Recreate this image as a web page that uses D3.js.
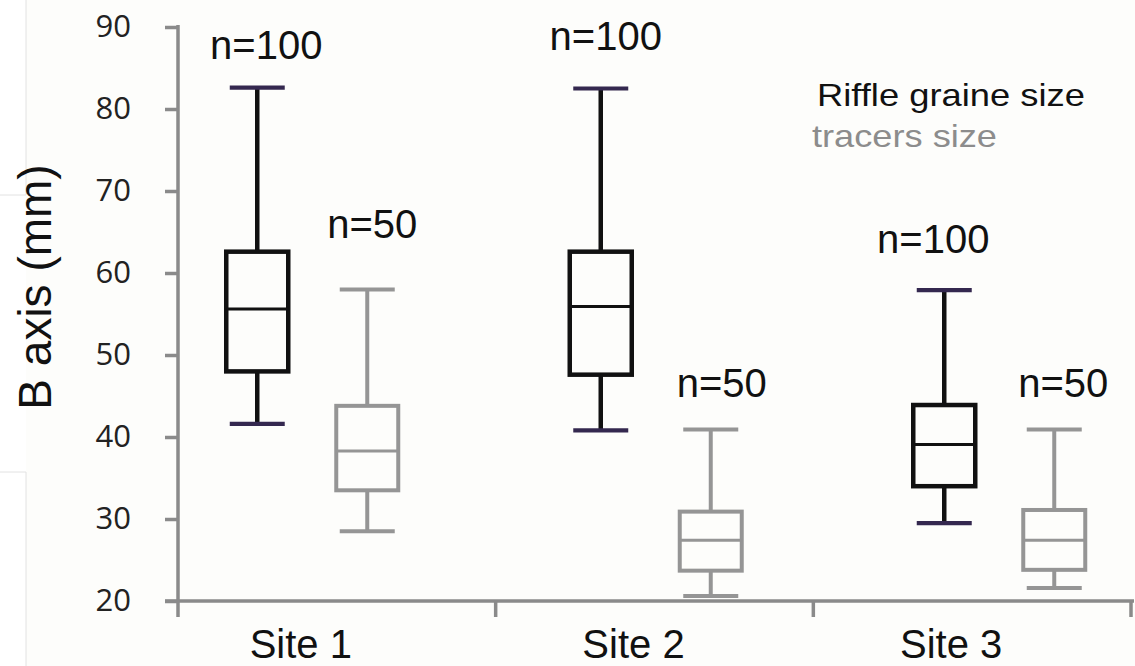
<!DOCTYPE html>
<html>
<head>
<meta charset="utf-8">
<script src="https://cdn.jsdelivr.net/npm/d3@7"></script>
<style>
  html, body { margin: 0; padding: 0; background: #fdfdfb; }
  svg { display: block; }
</style>
</head>
<body>
<svg id="chart" width="1135" height="666"></svg>
<script>
// ---------------- data ----------------
const sites = ["Site 1", "Site 2", "Site 3"];
const series = ["Riffle graine size", "tracers size"];
const yTicks = [20, 30, 40, 50, 60, 70, 80, 90];

const riffleMin    = [41.6, 40.8, 29.5];
const riffleQ1     = [48.0, 47.6, 34.0];
const riffleMedian = [55.6, 55.9, 39.1];
const riffleQ3     = [62.6, 62.6, 43.9];
const riffleMax    = [82.6, 82.5, 57.9];

const tracersMin    = [28.5, 20.6, 21.6];
const tracersQ1     = [33.5, 23.7, 23.8];
const tracersMedian = [38.3, 27.4, 27.4];
const tracersQ3     = [43.8, 30.9, 31.1];
const tracersMax    = [58.0, 40.9, 40.9];

const riffleN  = ["n=100", "n=100", "n=100"];
const tracersN = ["n=50", "n=50", "n=50"];

// ---------------- layout ----------------
const W = 1135, H = 666;
const svg = d3.select("#chart");

svg.append("rect").attr("width", W).attr("height", H).attr("fill", "#fdfdfb");
svg.append("rect").attr("width", 26).attr("height", H).attr("fill", "#ffffff");
// faint screenshot frame artifacts at left
svg.append("path")
  .attr("d", "M26,0 V195 H0 M0,472 H26 V666")
  .attr("fill", "none").attr("stroke", "#e2e2e2").attr("stroke-width", 1);

const y = d3.scaleLinear().domain([20, 90]).range([601, 27]);
const xAxisScale = d3.scaleBand().domain(sites).range([178, 1131]);
const xSite = d3.scaleBand().domain(sites).range([140.5, 1171]);
const xSeries = d3.scalePoint().domain(series).range([-55, 55]);

const boxes = [];
sites.forEach((s, i) => {
  boxes.push({ site: s, ser: series[0], min: riffleMin[i], q1: riffleQ1[i], med: riffleMedian[i], q3: riffleQ3[i], max: riffleMax[i], n: riffleN[i] });
  boxes.push({ site: s, ser: series[1], min: tracersMin[i], q1: tracersQ1[i], med: tracersMedian[i], q3: tracersQ3[i], max: tracersMax[i], n: tracersN[i] });
});

const style = {
  "Riffle graine size": { stroke: "#111111", cap: "#34284f", boxW: 4.5, medW: 3, whW: 4.5, capW: 4.2 },
  "tracers size":       { stroke: "#959595", cap: "#959595", boxW: 4, medW: 3, whW: 4, capW: 4 }
};
// label nudges (px) relative to whisker top: [dx, dy] per box
const labelNudge = [[9, -29], [5, -51], [5, -39], [11, -33], [-11, -37], [9, -33]];
// x-label nudges (px) relative to category centre
const xLabelNudge = [-36, -21, -21];

const boxW = 62, capW = 55;
const cx = d => xSite(d.site) + xSite.bandwidth() / 2 + xSeries(d.ser);

// ---------------- axes ----------------
const axisColor = "#8a8a8a";
const yAxis = svg.append("g").attr("transform", "translate(178,0)")
  .call(d3.axisLeft(y).tickValues(yTicks).tickSize(13).tickPadding(34).tickFormat(d3.format("d")));
yAxis.select(".domain").remove();
yAxis.selectAll(".tick line").attr("stroke", axisColor).attr("stroke-width", 3.5);
yAxis.selectAll(".tick text")
  .attr("font-family", "'Open Sans', sans-serif").attr("font-size", 31).attr("fill", "#222")
  .attr("dy", "0.3em");

svg.append("line").attr("x1", 178).attr("x2", 178).attr("y1", 25).attr("y2", 617)
  .attr("stroke", axisColor).attr("stroke-width", 3.5);
svg.append("line").attr("x1", 165).attr("x2", 1134).attr("y1", y(20)).attr("y2", y(20))
  .attr("stroke", axisColor).attr("stroke-width", 3.5);

// category boundary ticks
const bounds = sites.map(s => xAxisScale(s)).concat([xAxisScale.range()[1]]);
svg.selectAll("line.xtick").data(bounds.slice(1)).join("line").attr("class", "xtick")
  .attr("x1", d => d).attr("x2", d => d).attr("y1", y(20)).attr("y2", 617)
  .attr("stroke", axisColor).attr("stroke-width", 3.5);

svg.selectAll("text.xlab").data(sites).join("text").attr("class", "xlab")
  .attr("x", (d, i) => xAxisScale(d) + xAxisScale.bandwidth() / 2 + xLabelNudge[i])
  .attr("y", 658)
  .attr("text-anchor", "middle")
  .attr("font-family", "'Liberation Sans', Arial, sans-serif").attr("font-size", 40).attr("fill", "#111")
  .text(d => d);

// y axis title
svg.append("text")
  .attr("transform", "translate(51,287) rotate(-90)")
  .attr("text-anchor", "middle")
  .attr("font-family", "'Liberation Sans', Arial, sans-serif").attr("font-size", 46).attr("fill", "#111")
  .text("B axis (mm)");

// ---------------- boxes ----------------
const g = svg.append("g");
const bx = g.selectAll("g.box").data(boxes).join("g").attr("class", "box");

// whiskers
bx.append("line")
  .attr("x1", cx).attr("x2", cx).attr("y1", d => y(d.max)).attr("y2", d => y(d.q3))
  .attr("stroke", d => style[d.ser].stroke).attr("stroke-width", d => style[d.ser].whW);
bx.append("line")
  .attr("x1", cx).attr("x2", cx).attr("y1", d => y(d.q1)).attr("y2", d => y(d.min))
  .attr("stroke", d => style[d.ser].stroke).attr("stroke-width", d => style[d.ser].whW);
// caps
bx.append("line")
  .attr("x1", d => cx(d) - capW / 2).attr("x2", d => cx(d) + capW / 2)
  .attr("y1", d => y(d.max)).attr("y2", d => y(d.max))
  .attr("stroke", d => style[d.ser].cap).attr("stroke-width", d => style[d.ser].capW);
bx.append("line")
  .attr("x1", d => cx(d) - capW / 2).attr("x2", d => cx(d) + capW / 2)
  .attr("y1", d => y(d.min)).attr("y2", d => y(d.min))
  .attr("stroke", d => style[d.ser].cap).attr("stroke-width", d => style[d.ser].capW);
// box
bx.append("rect")
  .attr("x", d => cx(d) - boxW / 2).attr("width", boxW)
  .attr("y", d => y(d.q3)).attr("height", d => y(d.q1) - y(d.q3))
  .attr("fill", "none")
  .attr("stroke", d => style[d.ser].stroke).attr("stroke-width", d => style[d.ser].boxW);
// median
bx.append("line")
  .attr("x1", d => cx(d) - boxW / 2).attr("x2", d => cx(d) + boxW / 2)
  .attr("y1", d => y(d.med)).attr("y2", d => y(d.med))
  .attr("stroke", d => style[d.ser].stroke).attr("stroke-width", d => style[d.ser].medW);
// n labels
bx.append("text")
  .attr("x", (d, i) => cx(d) + labelNudge[i][0])
  .attr("y", (d, i) => y(d.max) + labelNudge[i][1])
  .attr("text-anchor", "middle")
  .attr("font-family", "'Liberation Sans', Arial, sans-serif").attr("font-size", 40).attr("fill", "#111")
  .text(d => d.n);

// ---------------- legend ----------------
svg.append("text").attr("x", 817).attr("y", 106)
  .attr("font-family", "'Liberation Sans', Arial, sans-serif").attr("font-size", 32)
  .attr("textLength", 268).attr("lengthAdjust", "spacingAndGlyphs")
  .attr("fill", "#111").text(series[0]);
svg.append("text").attr("x", 812).attr("y", 147)
  .attr("font-family", "'Liberation Sans', Arial, sans-serif").attr("font-size", 32)
  .attr("textLength", 185).attr("lengthAdjust", "spacingAndGlyphs")
  .attr("fill", "#8c8c8c").text(series[1]);
</script>
</body>
</html>
